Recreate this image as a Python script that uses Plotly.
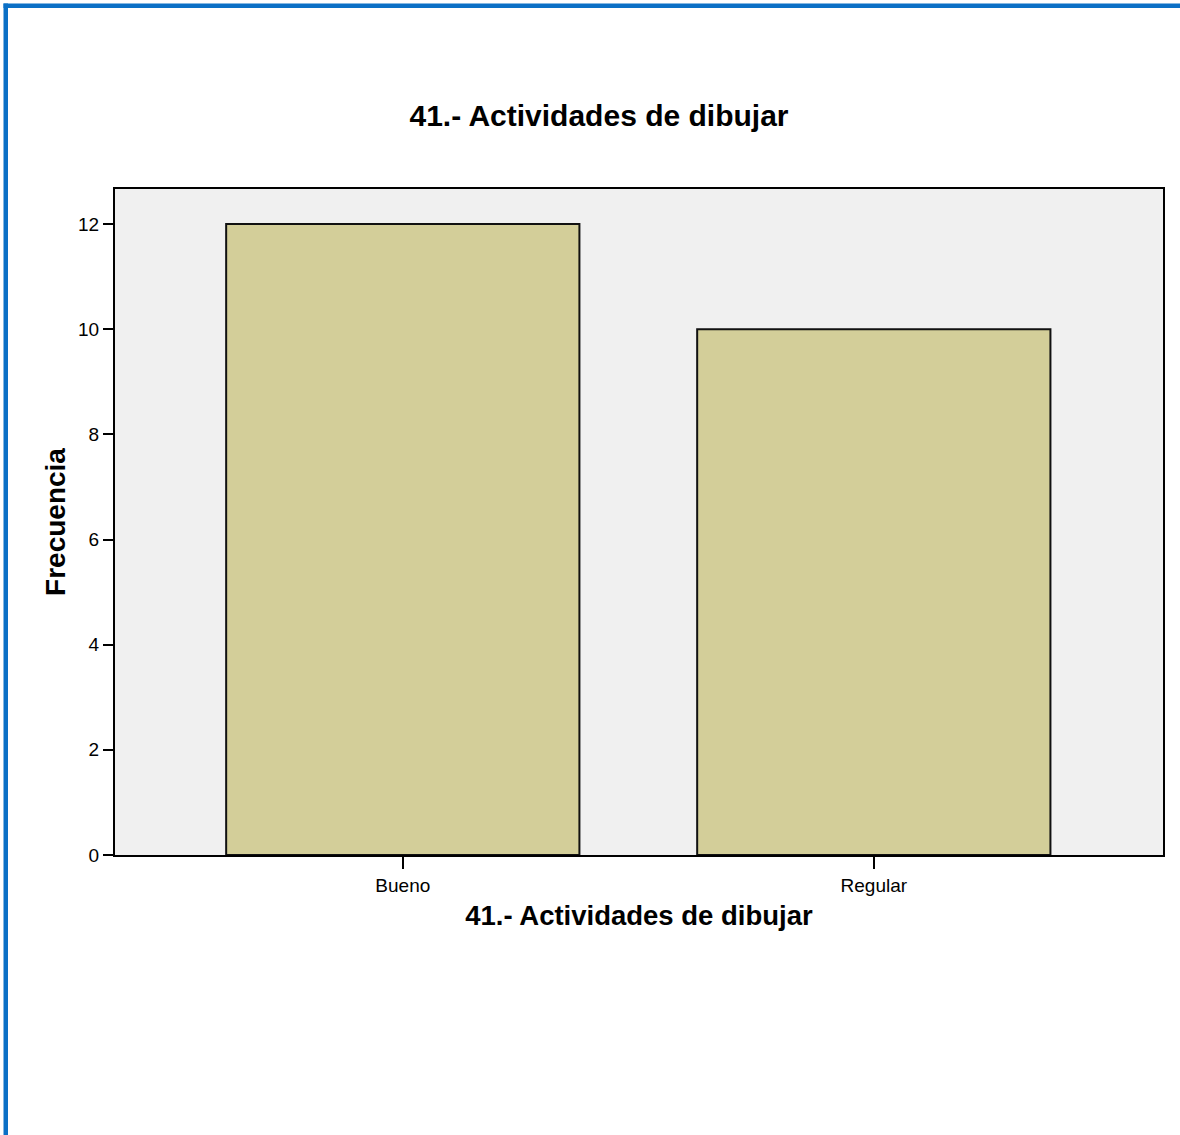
import plotly.graph_objects as go

# Frequency table for item 41
categories = ["Bueno", "Regular"]
frequencies = [12, 10]
y_ticks = [0, 2, 4, 6, 8, 10, 12]

FONT = "Arial, Liberation Sans, sans-serif"
W, H = 1180, 1135
L, R, T, B = 115, 17, 189, 280
PW, PH = W - L - R, H - T - B


def px_x(p):
    return (p - L) / PW


def px_y(p):
    return (H - B - p) / PH


fig = go.Figure(
    go.Bar(
        x=categories,
        y=frequencies,
        width=0.75,
        marker=dict(color="#d3ce99", line=dict(color="#111111", width=2)),
        hoverinfo="x+y",
    )
)

# blue frame along the top and left edges of the page
frame = "#0b70c6"
fig.add_shape(type="rect", xref="paper", yref="paper", layer="above",
              x0=px_x(3.5), x1=px_x(8), y0=px_y(1200), y1=px_y(3.5),
              fillcolor=frame, line=dict(width=0))
fig.add_shape(type="rect", xref="paper", yref="paper", layer="above",
              x0=px_x(3.5), x1=px_x(1250), y0=px_y(8), y1=px_y(3.5),
              fillcolor=frame, line=dict(width=0))

fig.update_layout(
    width=W,
    height=H,
    margin=dict(l=L, r=R, t=T, b=B, pad=0),
    paper_bgcolor="white",
    plot_bgcolor="#f0f0f0",
    showlegend=False,
    font=dict(family=FONT, color="black"),
    title=dict(
        text="<b>41.- Actividades de dibujar</b>",
        font=dict(family=FONT, size=30, color="black"),
        x=599 / W,
        xanchor="center",
        y=1 - 115 / H,
        yanchor="middle",
    ),
    bargap=0.25,
)

fig.update_xaxes(
    type="category",
    range=[-0.611, 1.614],
    showline=True,
    linecolor="black",
    linewidth=2,
    mirror=True,
    ticks="outside",
    ticklen=12,
    tickwidth=2,
    tickcolor="black",
    tickfont=dict(family=FONT, size=19, color="black"),
    showgrid=False,
    title=dict(text="<b>41.- Actividades de dibujar</b>",
               font=dict(family=FONT, size=27.5, color="black"), standoff=11),
)

fig.update_yaxes(
    range=[0, 12.666],
    tickvals=y_ticks,
    showline=True,
    linecolor="black",
    linewidth=2,
    mirror=True,
    ticks="outside",
    ticklen=10,
    tickwidth=2,
    tickcolor="black",
    tickfont=dict(family=FONT, size=19, color="black"),
    showgrid=False,
    zeroline=False,
    title=dict(text="<b>Frecuencia</b>",
               font=dict(family=FONT, size=28, color="black"), standoff=4),
)

fig.write_html("out.html")
